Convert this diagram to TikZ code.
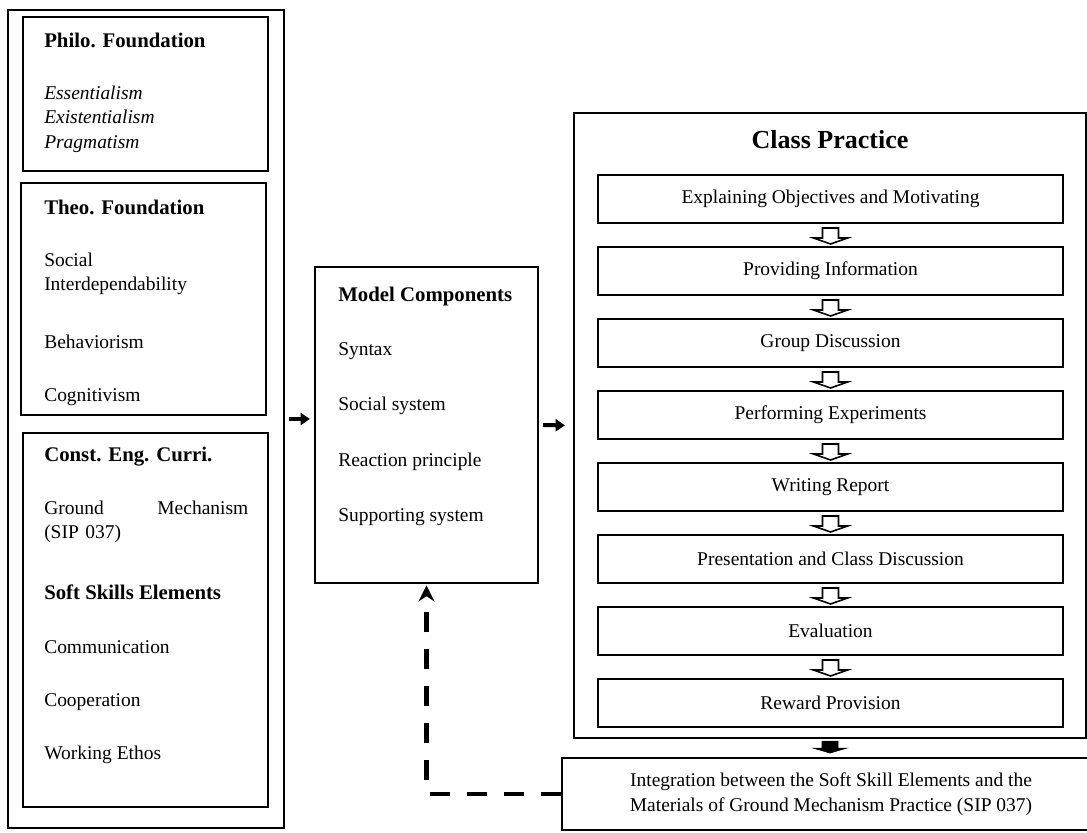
\documentclass[tikz,border=0pt]{standalone}
\usepackage{fontspec}
\setmainfont{Liberation Serif}
\usetikzlibrary{arrows.meta}
\usetikzlibrary{fit}
\usetikzlibrary{calc}

\newcommand{\bodysize}{\fontsize{14.6}{18.4}\selectfont}
\newcommand{\headsize}{\fontsize{15.6}{18.4}\selectfont}
\newcommand{\titlesize}{\fontsize{19.5}{23}\selectfont}

\begin{document}
\begin{tikzpicture}[x=0.75pt,y=0.75pt,yscale=-1,xscale=1,
  frame/.style={draw, line width=1.6pt, inner sep=0pt},
  stepbox/.style={draw, line width=1.3pt, inner sep=0pt, font=\bodysize, minimum width=348.75pt, minimum height=36pt},
  txt/.style={anchor=west, inner sep=0.75pt, font=\bodysize, align=left},
  head/.style={txt, font=\headsize\bfseries},
  flow/.style={-{Triangle[length=7pt,width=9pt]}, line width=3pt},
  hollow/.style={draw, line width=1.2pt, fill=white},
  back/.style={-{Stealth[length=12pt,width=12pt]}, line width=3.6pt, dash pattern=on 15pt off 12.75pt}]
\useasboundingbox (0,0) rectangle (1087,832);
\clip (0,0) rectangle (1087,832);

%Shape: Rectangle [left column]
\node (found) [frame, fit={(8,10)(284,828)}] {};
\node (philo) [frame, line width=1.3pt, fit={(23,17)(268,171)}] {};
\node (theo) [frame, line width=1.3pt, fit={(21,183)(266,415)}] {};
\node (curri) [frame, line width=1.3pt, fit={(23,433)(268,807)}] {};

% Text Node
\node (philohd) at (43,40) [head] {Philo. Foundation};
\node (philoit) at (43,119) [txt, font=\bodysize\itshape] {Essentialism\\Existentialism\\Pragmatism};
% Text Node
\node (theohd) at (43,207) [head] {Theo. Foundation};
\node (social) at (43,274) [txt] {Social\\Interdependability};
\node (behav) at (43,342) [txt] {Behaviorism};
\node (cogn) at (43,397) [txt] {Cognitivism};
% Text Node
\node (currihd) at (43,457) [head] {Const. Eng. Curri.};
\node (ground) at (43,522) [txt, text width=153pt] {Ground\hfill Mechanism\\(SIP 037)};
\node (softhd) at (43,592) [head] {Soft Skills Elements};
\node (comm) at (43,647) [txt] {Communication};
\node (coop) at (43,702) [txt] {Cooperation};
\node (ethos) at (43,755) [txt] {Working Ethos};

%Shape: Rectangle [model components]
\node (model) [frame, fit={(315,267)(538,583)}] {};
% Text Node
\node (modelhd) at (337,296) [head] {Model Components};
\node (syntax) at (337,351) [txt] {Syntax};
\node (socsys) at (337,406) [txt] {Social system};
\node (react) at (337,462) [txt] {Reaction principle};
\node (support) at (337,517) [txt] {Supporting system};

%Shape: Rectangle [class practice]
\node (cls) [frame, fit={(574,113)(1086,738)}] {};
\node (clshd) at (830,140) [font=\titlesize\bfseries, inner sep=0.75pt] {Class Practice};
\foreach \t [count=\i from 1, evaluate=\i as \yc using 127+72*\i] in
  {Explaining Objectives and Motivating, Providing Information, Group Discussion,
   Performing Experiments, Writing Report, Presentation and Class Discussion,
   Evaluation, Reward Provision}
  \node (s\i) at (830.5,\yc) [stepbox] {\t};
\foreach \i [evaluate=\i as \j using int(\i+1)] in {1,...,7}
  \draw[hollow] ($(s\i.south)!0.5!(s\j.north)$) ++(-8,-7) -- ++(16,0) -- ++(0,10) -- ++(9,0) -- ++(-17,6) -- ++(-17,-6) -- ++(9,0) -- cycle;

%Shape: Rectangle [integration]
\node (integ) at (831,794) [draw, line width=1.6pt, minimum width=403.5pt, minimum height=54pt, align=center, font=\bodysize] {Integration between the Soft Skill Elements and the\\Materials of Ground Mechanism Practice (SIP 037)};

%Straight Lines
\draw[flow, shorten <=3pt, shorten >=3pt] (found.east) -- (found.east -| model.west);
\draw[flow, shorten <=3pt, shorten >=6pt] (model.east) -- (cls.west);
\draw[fill=black] ($(cls.south)+(0,2)$) ++(-8,0) -- ++(16,0) -- ++(0,7) -- ++(9,0) -- ++(-17,5) -- ++(-17,-5) -- ++(9,0) -- cycle;
\draw[back, shorten >=1pt] (integ.west) -- (integ.west -| model.south) -- (model.south);

\end{tikzpicture}
\end{document}
